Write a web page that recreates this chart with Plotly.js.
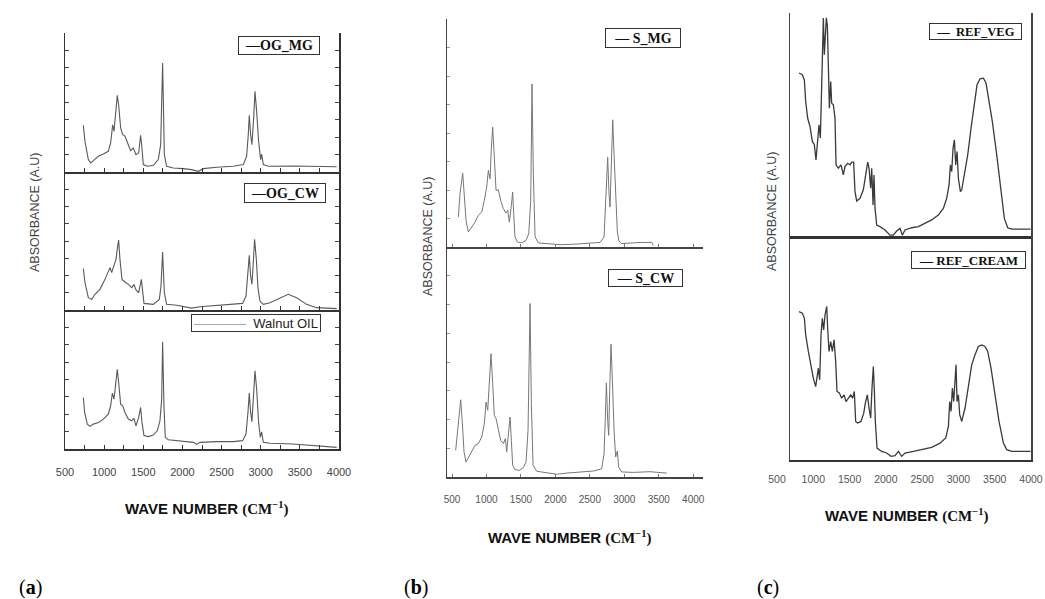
<!DOCTYPE html>
<html>
<head>
<meta charset="utf-8">
<script src="https://cdn.plot.ly/plotly-3.0.1.min.js"></script>
<style>html,body{margin:0;padding:0;background:#fff;}#chart{width:1045px;height:599px;}</style>
</head>
<body>
<div id="chart"></div>
<script>
// ---------- Panel (a) ----------
const ogMgWavenumber = [734,755,798,828,862,926,990,1053,1083,1109,1126,1147,1168,1185,1211,1237,1266,1300,1339,1373,1407,1441,1466,1483,1500,1552,1628,1692,1722,1747,1769,1798,1884,2011,2118,2203,2267,2437,2650,2778,2820,2841,2854,2871,2888,2910,2927,2948,2973,2999,3012,3033,3097,3416,3672,3970];
const ogMgAbsorbance = [0.336,0.220,0.089,0.065,0.082,0.113,0.130,0.149,0.209,0.340,0.293,0.460,0.551,0.484,0.317,0.269,0.258,0.209,0.153,0.173,0.125,0.137,0.264,0.173,0.053,0.041,0.048,0.089,0.197,0.784,0.125,0.041,0.029,0.024,0.017,0.005,0.024,0.034,0.041,0.053,0.113,0.270,0.408,0.270,0.197,0.391,0.580,0.436,0.221,0.089,0.129,0.053,0.041,0.043,0.041,0.038];

const ogCwWavenumber = [734,755,798,841,883,947,1011,1053,1075,1096,1126,1151,1168,1185,1202,1228,1266,1309,1352,1381,1407,1441,1475,1492,1509,1628,1705,1726,1747,1769,1798,1926,2054,2118,2224,2437,2650,2769,2812,2837,2854,2871,2888,2905,2922,2944,2965,2990,3033,3118,3246,3352,3459,3586,3714,3970];
const ogCwAbsorbance = [0.300,0.200,0.089,0.077,0.114,0.150,0.222,0.283,0.307,0.271,0.331,0.367,0.441,0.507,0.367,0.222,0.203,0.186,0.162,0.186,0.145,0.126,0.222,0.101,0.048,0.041,0.077,0.174,0.420,0.126,0.041,0.034,0.024,0.014,0.024,0.034,0.039,0.048,0.101,0.246,0.396,0.246,0.186,0.343,0.512,0.367,0.162,0.065,0.041,0.053,0.089,0.114,0.089,0.041,0.017,0.010];

const walnutWavenumber = [734,751,785,819,862,926,990,1053,1083,1105,1126,1147,1168,1185,1211,1237,1266,1309,1352,1381,1407,1441,1466,1483,1509,1564,1628,1679,1713,1735,1747,1764,1781,1820,1926,2054,2139,2182,2224,2437,2650,2769,2812,2837,2854,2871,2888,2905,2927,2948,2973,2995,3012,3033,3118,3416,3672,3970];
const walnutAbsorbance = [0.371,0.263,0.179,0.163,0.179,0.191,0.215,0.251,0.311,0.402,0.359,0.478,0.574,0.478,0.323,0.311,0.263,0.215,0.203,0.220,0.167,0.227,0.299,0.191,0.096,0.089,0.100,0.131,0.203,0.359,0.770,0.311,0.084,0.067,0.060,0.053,0.048,0.033,0.048,0.053,0.053,0.060,0.108,0.263,0.402,0.263,0.196,0.359,0.562,0.431,0.191,0.084,0.124,0.048,0.041,0.036,0.024,0.012];

// ---------- Panel (b) ----------
const sMgWavenumber = [592,616,655,679,703,737,786,834,882,931,969,1003,1027,1052,1071,1090,1114,1139,1172,1206,1245,1284,1308,1332,1361,1380,1395,1414,1448,1511,1574,1613,1642,1661,1680,1705,1753,1922,2067,2261,2454,2648,2706,2735,2759,2778,2793,2812,2832,2851,2875,2899,2923,2962,3131,3228,3397,3422];
const sMgAbsorbance = [0.131,0.234,0.324,0.234,0.117,0.066,0.088,0.109,0.139,0.153,0.204,0.263,0.336,0.299,0.438,0.526,0.394,0.248,0.251,0.204,0.168,0.149,0.161,0.109,0.182,0.241,0.146,0.044,0.022,0.018,0.029,0.058,0.204,0.715,0.321,0.044,0.018,0.012,0.010,0.012,0.015,0.020,0.044,0.219,0.394,0.234,0.175,0.365,0.558,0.409,0.204,0.066,0.026,0.015,0.018,0.020,0.020,0.007];

const sCwWavenumber = [553,592,626,650,674,703,752,810,834,882,931,969,994,1018,1042,1066,1090,1114,1139,1172,1206,1245,1274,1293,1318,1342,1361,1380,1414,1477,1535,1574,1603,1632,1651,1676,1729,1874,2019,2164,2358,2551,2672,2706,2725,2740,2759,2774,2788,2807,2827,2851,2875,2899,2919,2962,3131,3373,3615];
const sCwAbsorbance = [0.116,0.232,0.336,0.232,0.109,0.065,0.094,0.123,0.138,0.145,0.174,0.232,0.326,0.290,0.435,0.536,0.406,0.268,0.254,0.203,0.159,0.145,0.167,0.109,0.174,0.261,0.159,0.051,0.032,0.029,0.041,0.065,0.203,0.754,0.319,0.051,0.025,0.017,0.012,0.017,0.022,0.026,0.036,0.101,0.261,0.409,0.246,0.181,0.377,0.577,0.420,0.203,0.087,0.113,0.043,0.022,0.020,0.023,0.017];

// ---------- Panel (c) ----------
const refVegWavenumber = [784,829,856,874,901,932,964,991,1013,1036,1054,1072,1090,1099,1113,1126,1140,1153,1167,1180,1194,1212,1225,1248,1270,1284,1315,1351,1383,1405,1441,1473,1495,1522,1540,1563,1608,1653,1680,1712,1730,1752,1766,1784,1797,1811,1833,1878,1946,2013,2058,2103,2148,2180,2216,2306,2396,2486,2576,2666,2734,2779,2811,2829,2847,2865,2883,2901,2919,2937,2964,2982,3018,3063,3108,3153,3189,3230,3275,3310,3351,3396,3455,3513,3558,3603,3657,3747,3912];
const refVegAbsorbance = [0.731,0.723,0.700,0.603,0.528,0.491,0.424,0.409,0.341,0.424,0.499,0.439,0.723,0.903,0.978,0.813,0.903,0.978,0.940,0.678,0.573,0.693,0.596,0.588,0.528,0.319,0.304,0.319,0.274,0.311,0.326,0.319,0.331,0.331,0.199,0.157,0.169,0.207,0.274,0.331,0.304,0.214,0.304,0.139,0.274,0.124,0.049,0.042,0.027,0.004,0.004,0.022,0.034,0.004,0.027,0.037,0.042,0.057,0.072,0.094,0.124,0.169,0.229,0.319,0.289,0.394,0.431,0.319,0.379,0.259,0.199,0.207,0.274,0.364,0.484,0.603,0.678,0.705,0.708,0.686,0.611,0.513,0.364,0.199,0.079,0.037,0.031,0.031,0.031];

const refCreamWavenumber = [784,829,856,874,910,946,977,1009,1031,1045,1063,1081,1099,1117,1135,1158,1171,1189,1212,1234,1257,1279,1297,1329,1360,1392,1419,1450,1482,1509,1531,1549,1576,1621,1658,1680,1707,1730,1752,1770,1788,1802,1815,1838,1901,1968,2027,2081,2126,2171,2216,2329,2441,2576,2689,2766,2802,2820,2838,2856,2874,2892,2905,2919,2937,2955,2982,3027,3072,3117,3162,3207,3252,3297,3333,3378,3432,3486,3545,3590,3657,3912];
const refCreamAbsorbance = [0.662,0.655,0.632,0.558,0.484,0.417,0.365,0.327,0.379,0.409,0.357,0.558,0.632,0.580,0.647,0.685,0.588,0.484,0.528,0.484,0.536,0.439,0.305,0.298,0.275,0.290,0.260,0.275,0.290,0.275,0.305,0.171,0.164,0.171,0.208,0.253,0.290,0.231,0.186,0.320,0.417,0.305,0.171,0.052,0.037,0.030,0.015,0.018,0.037,0.015,0.030,0.037,0.045,0.055,0.074,0.097,0.149,0.260,0.216,0.320,0.260,0.357,0.424,0.260,0.290,0.201,0.171,0.231,0.320,0.424,0.469,0.506,0.513,0.506,0.484,0.409,0.290,0.171,0.074,0.045,0.037,0.037];

// tick labels for the wave-number axes
const waveTicks = [500,1000,1500,2000,2500,3000,3500,4000];

// ---------- traces ----------
const lineA = {color:'#5a5a5a', width:1.1};
const lineB = {color:'#777777', width:1};
const lineC = {color:'#3a3a3a', width:1.3};
const traces = [
  {x:ogMgWavenumber, y:ogMgAbsorbance, xaxis:'x', yaxis:'y', name:'OG_MG', mode:'lines', line:lineA},
  {x:ogCwWavenumber, y:ogCwAbsorbance, xaxis:'x2', yaxis:'y2', name:'OG_CW', mode:'lines', line:lineA},
  {x:walnutWavenumber, y:walnutAbsorbance, xaxis:'x3', yaxis:'y3', name:'Walnut OIL', mode:'lines', line:lineA},
  {x:sMgWavenumber, y:sMgAbsorbance, xaxis:'x4', yaxis:'y4', name:'S_MG', mode:'lines', line:lineB},
  {x:sCwWavenumber, y:sCwAbsorbance, xaxis:'x5', yaxis:'y5', name:'S_CW', mode:'lines', line:lineB},
  {x:refVegWavenumber, y:refVegAbsorbance, xaxis:'x6', yaxis:'y6', name:'REF_VEG', mode:'lines', line:lineC},
  {x:refCreamWavenumber, y:refCreamAbsorbance, xaxis:'x7', yaxis:'y7', name:'REF_CREAM', mode:'lines', line:lineC},
  {x:[null], y:[null], xaxis:'x8', yaxis:'y7', mode:'lines', hoverinfo:'skip', showlegend:false}
];

const W = 1045, H = 599;
const px = v => v / W;
const py = v => 1 - v / H;

function xA(dom, anchor, labels){
  return {domain:dom, anchor:anchor, range:[500,4000], showline:true, linecolor:'#333', linewidth:2,
    ticks:'inside', ticklen:4, tickcolor:'#333', tickvals:waveTicks,
    minor:{dtick:250, tick0:0, ticks:'inside', ticklen:4, tickcolor:'#333'},
    showticklabels:labels, tickfont:{size:11, color:'#444', family:'Liberation Sans'},
    ticklabelstandoff:12, ticklabeloverflow:'allow', showgrid:false, zeroline:false};
}
function yA(dom, anchor){
  return {domain:dom, anchor:anchor, range:[0,1], showline:true, linecolor:'#333', linewidth:1.5,
    mirror:'ticks', ticks:'inside', ticklen:4, tickcolor:'#444', dtick:0.125, tick0:0,
    showticklabels:false, showgrid:false, zeroline:false};
}
function xB(dom, anchor, labels){
  return {domain:dom, anchor:anchor, range:[427,4142], showline:true, linecolor:'#444', linewidth:2,
    ticks:'inside', ticklen:3, tickcolor:'#777', tickvals:waveTicks,
    showticklabels:labels, tickfont:{size:10, color:'#555', family:'Liberation Sans'},
    ticklabelstandoff:12, showgrid:false, zeroline:false};
}
function yB(dom, anchor){
  return {domain:dom, anchor:anchor, range:[0,1], showline:true, linecolor:'#444', linewidth:1.5,
    ticks:'inside', ticklen:3, tickcolor:'#999', dtick:0.125, tick0:0,
    showticklabels:false, showgrid:false, zeroline:false};
}
function xC(dom, anchor, lw){
  return {domain:dom, anchor:anchor, range:[662,3918], showline:true, linecolor:'#333', linewidth:lw,
    ticks:'', showticklabels:false, showgrid:false, zeroline:false};
}
function yC(dom, anchor){
  return {domain:dom, anchor:anchor, range:[0,1], showline:true, linecolor:'#444', linewidth:1.5,
    mirror:true, ticks:'', showticklabels:false, showgrid:false, zeroline:false};
}

const domA = [px(65), px(339)];
const domB = [px(447), px(703)];
const domC = [px(790), px(1031)];

const serif = 'Liberation Serif';
function legendBox(text, cx, cy, w, h, font){
  return {xref:'paper', yref:'paper', x:px(cx), y:py(cy), xanchor:'center', yanchor:'middle',
    text:text, showarrow:false, width:w, height:h, borderpad:0, bordercolor:'#333', borderwidth:1,
    bgcolor:'#fff', align:'center', font:font};
}
const xTitle = '<b>WAVE NUMBER </b><span style="font-family:Liberation Serif"><b>(CM<sup>−1</sup>)</b></span>';
function note(text, cx, cy, opts){
  return Object.assign({xref:'paper', yref:'paper', x:px(cx), y:py(cy), xanchor:'center', yanchor:'middle',
    text:text, showarrow:false}, opts);
}

const layout = {
  width:W, height:H, margin:{l:0, r:0, t:0, b:0}, paper_bgcolor:'#fff', plot_bgcolor:'rgba(0,0,0,0)',
  showlegend:false, font:{family:'Liberation Sans', color:'#222'},
  xaxis:xA(domA,'y',false), yaxis:yA([py(172),py(33)],'x'),
  xaxis2:xA(domA,'y2',false), yaxis2:yA([py(310),py(172)],'x2'),
  xaxis3:xA(domA,'y3',true), yaxis3:yA([py(449),py(310)],'x3'),
  xaxis4:xB(domB,'y4',false), yaxis4:yB([py(247),py(19)],'x4'),
  xaxis5:xB(domB,'y5',true), yaxis5:yB([py(477),py(247)],'x5'),
  xaxis6:xC(domC,'y6',2.5), yaxis6:yC([py(236),py(13)],'x6'),
  xaxis7:xC(domC,'y7',2), yaxis7:yC([py(459.7),py(236)],'x7'),
  xaxis8:{domain:[px(777),px(1031)], anchor:'free', position:py(459.7), range:[500,4000], showline:false,
    ticks:'', tickvals:waveTicks, tickfont:{size:10.5, color:'#555', family:'Liberation Sans'},
    ticklabelstandoff:12, ticklabeloverflow:'allow', showgrid:false, zeroline:false},
  annotations:[
    legendBox('<b>—OG_MG</b>', 278.5, 45, 80, 17, {family:serif, size:14, color:'#111'}),
    legendBox('<b>—OG_CW</b>', 285, 193, 80, 18, {family:serif, size:14, color:'#111'}),
    legendBox('<span style="color:#aaa">————</span>  Walnut OIL', 256, 322.5, 128, 16, {family:'Liberation Sans', size:13, color:'#222'}),
    legendBox('<b>— S_MG</b>', 643, 38.5, 74, 18, {family:serif, size:14, color:'#111'}),
    legendBox('<b>— S_CW</b>', 645.5, 278.5, 73, 16, {family:serif, size:14, color:'#111'}),
    legendBox('<b>—  REF_VEG</b>', 975.5, 31, 91, 15, {family:serif, size:12.5, color:'#111'}),
    legendBox('<b>— REF_CREAM</b>', 968.5, 259.5, 113, 16, {family:serif, size:13, color:'#111'}),
    note(xTitle, 206, 508, {font:{size:15, color:'#111'}}),
    note(xTitle, 569, 537, {font:{size:15, color:'#111'}}),
    note(xTitle, 906, 515, {font:{size:15, color:'#111'}}),
    note('ABSORBANCE (A.U)', 35, 213, {textangle:-90, font:{size:12.5, color:'#444'}}),
    note('ABSORBANCE (A.U)', 428, 237, {textangle:-90, font:{size:12.5, color:'#444'}}),
    note('ABSORBANCE (A.U)', 772, 212, {textangle:-90, font:{size:12.5, color:'#444'}}),
    note('(<b>a</b>)', 30, 587, {font:{family:serif, size:20, color:'#000'}}),
    note('(<b>b</b>)', 416, 587, {font:{family:serif, size:20, color:'#000'}}),
    note('(<b>c</b>)', 768, 587, {font:{family:serif, size:20, color:'#000'}})
  ]
};

Plotly.newPlot('chart', traces, layout, {staticPlot:true, displayModeBar:false});
</script>
</body>
</html>
